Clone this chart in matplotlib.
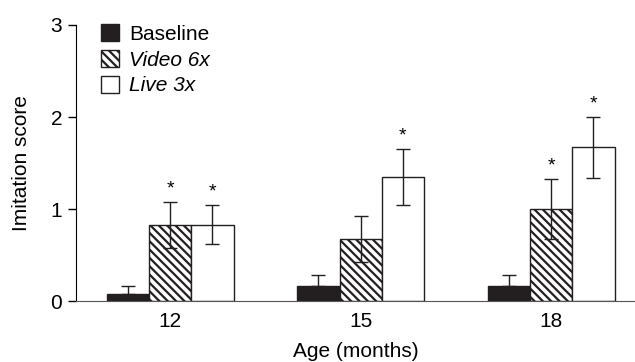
import numpy as np
import matplotlib
matplotlib.use('Agg')
import matplotlib.pyplot as plt

plt.rcParams['font.family'] = ['Liberation Sans', 'DejaVu Sans']
plt.rcParams['hatch.linewidth'] = 1.6

# data
ages = ['12', '15', '18']
baseline = [0.08, 0.16, 0.16]
baseline_err = [0.08, 0.12, 0.12]
video = [0.83, 0.68, 1.0]
video_err = [0.25, 0.25, 0.33]
live = [0.83, 1.35, 1.67]
live_err = [0.21, 0.30, 0.33]
video_sig = [True, False, True]
live_sig = [True, True, True]

FS = 15

fig = plt.figure(figsize=(6.35, 3.62), dpi=100)
ax = fig.add_axes([0.12, 0.168, 0.88, 0.763])

x = np.arange(len(ages))
w = 0.222

ax.bar(x - w, baseline, w, color='#231f20', edgecolor='#231f20', linewidth=1,
       label='Baseline')
ax.bar(x, video, w, color='white', edgecolor='#231f20', hatch='\\\\\\\\',
       linewidth=1, label='Video 6x')
ax.bar(x + w, live, w, color='white', edgecolor='#231f20', linewidth=1,
       label='Live 3x')

ekw = dict(fmt='none', ecolor='#231f20', elinewidth=1, capsize=5, capthick=1)
ax.errorbar(x - w, baseline, yerr=[np.zeros(3), baseline_err], **ekw)
ax.errorbar(x, video, yerr=video_err, **ekw)
ax.errorbar(x + w, live, yerr=live_err, **ekw)

# significance stars
for i in range(len(ages)):
    if video_sig[i]:
        ax.text(x[i], video[i] + video_err[i] + 0.05, '*', ha='center',
                va='bottom', fontsize=FS - 1)
    if live_sig[i]:
        ax.text(x[i] + w, live[i] + live_err[i] + 0.05, '*', ha='center',
                va='bottom', fontsize=FS - 1)

ax.set_xlim(-0.493, 2.44)
ax.set_ylim(0, 3)
ax.set_yticks([0, 1, 2, 3])
ax.set_xticks(x)
ax.set_xticklabels(ages)
ax.tick_params(axis='x', length=0, pad=8, labelsize=FS)
ax.tick_params(axis='y', length=6, width=1, pad=4, labelsize=FS)
ax.spines['top'].set_visible(False)
ax.spines['right'].set_visible(False)
ax.spines['bottom'].set_color('#555555')
ax.spines['left'].set_bounds(0, 3)
ax.set_xlabel('Age (months)', fontsize=FS, labelpad=8)
ax.set_ylabel('Imitation score', fontsize=FS, labelpad=14)

leg = ax.legend(loc='upper left', bbox_to_anchor=(0.018, 1.055), frameon=False,
                fontsize=FS, handlelength=0.85, handleheight=0.85,
                handletextpad=0.5, labelspacing=0.3, borderaxespad=0.3)
for t in leg.get_texts()[1:]:
    t.set_style('italic')

fig.savefig('out.png', dpi=100)
